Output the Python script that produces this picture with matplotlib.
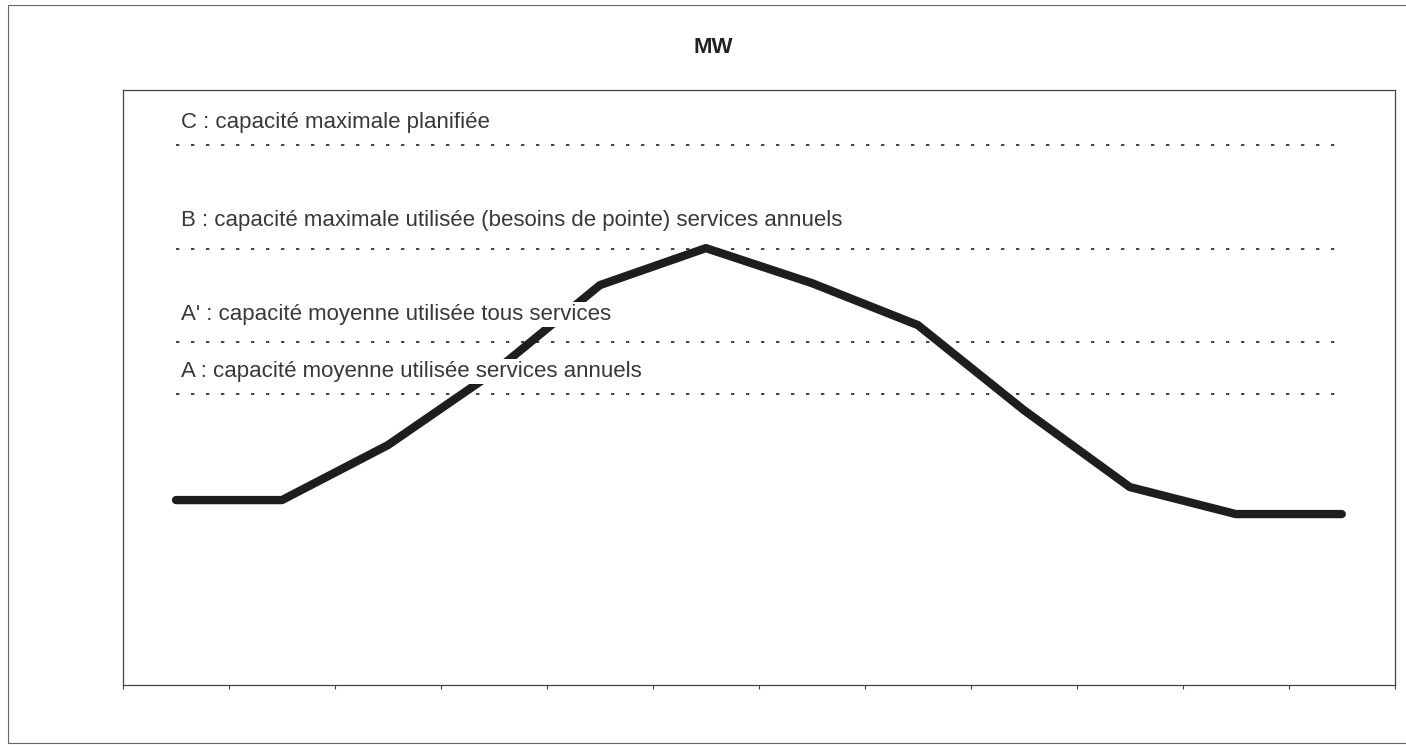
import matplotlib
matplotlib.use('Agg')
import matplotlib.pyplot as plt
from matplotlib.patches import Rectangle

plt.rcParams['font.family'] = ['Liberation Sans', 'DejaVu Sans']

# monthly load curve (MW, arbitrary scale)
months = list(range(12))
load = [185, 185, 240, 313, 400, 437, 402, 360, 275, 198, 171, 171]

# capacity levels
levels = {
    'C': 540,
    'B': 436,
    "A'": 343,
    'A': 291,
}
labels = [
    ('C', 'C : capacité maximale planifiée', 557),
    ('B', 'B : capacité maximale utilisée (besoins de pointe) services annuels', 459),
    ("A'", "A' : capacité moyenne utilisée tous services", 365),
    ('A', 'A : capacité moyenne utilisée services annuels', 308),
]

fig = plt.figure(figsize=(14.06, 7.45), dpi=100)
ax = fig.add_axes([0.0875, 0.0805, 0.9045, 0.7985])

ax.plot(months, load, color='#1e1e1e', linewidth=6,
        solid_capstyle='round', solid_joinstyle='round', zorder=2)

for key, val in levels.items():
    ax.hlines(val, 0, 11, colors='#222222', linewidth=1.2,
              linestyles=(0, (2, 7)), zorder=1)

for key, txt, yb in labels:
    ax.text(0.05, yb, txt, fontsize=16, color='#383838', va='baseline',
            ha='left', zorder=3,
            bbox=dict(facecolor='white', edgecolor='none', pad=1.5))

ax.set_xlim(-0.5, 11.5)
ax.set_ylim(0, 595)
ax.set_xticks([i - 0.5 for i in range(13)])
ax.set_xticklabels([])
ax.set_yticks([])
ax.tick_params(axis='x', direction='out', length=3, width=0.8, colors='#444444')
for s in ax.spines.values():
    s.set_linewidth(0.9)
    s.set_color('#444444')

fig.text(0.507, 0.936, 'MW', fontsize=16, fontweight='bold', ha='center',
         va='center', color='#222222')

# outer frame of the scanned figure
fig.patches.append(Rectangle((0.006, 0.003), 1.1, 0.99, transform=fig.transFigure,
                             fill=False, edgecolor='#666666', linewidth=0.8))

fig.savefig('out.png', dpi=100)
